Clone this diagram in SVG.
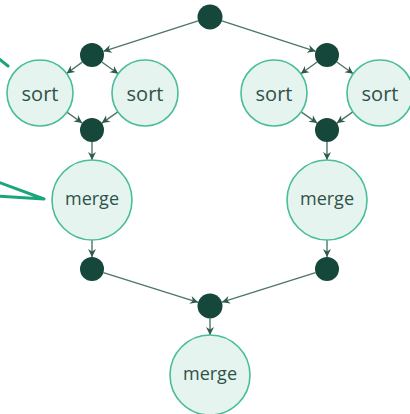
<svg xmlns="http://www.w3.org/2000/svg" width="410" height="414" viewBox="0 0 410 414">
<style>
.dot{fill:#15473a}
.op{fill:#e6f4f0;stroke:#48bd98;stroke-width:1.6}
.lbl{font-family:"Open Sans","Noto Sans",sans-serif;fill:#2e5247;text-anchor:middle;dominant-baseline:central}
.s{font-size:20px}
.m{font-size:18px}
.e{stroke:#4f7566;stroke-width:1.4;fill:none;marker-end:url(#arr)}
.call{stroke:#1aa57c;stroke-width:3;fill:none;stroke-linecap:round;stroke-linejoin:round}
</style>
<defs>
<marker id="arr" markerUnits="userSpaceOnUse" markerWidth="10" markerHeight="10" viewBox="0 0 10 10" refX="9" refY="5" orient="auto">
<path d="M1,1 L9,5 L1,9 L3.5,5 z" fill="#2f5a4b"/>
</marker>
</defs>
<g id="callouts">
<path class="call" d="M-2,58 L8,66"/>
<path class="call" d="M-2,182 L44,199 L-2,196"/>
</g>
<g id="connectors">
<path class="e" d="M198.1,20.8 L103.4,51.3"/>
<path class="e" d="M221.9,20.9 L315.6,51.3"/>
<path class="e" d="M82.3,62.1 L66.6,73.5"/>
<path class="e" d="M101.8,62.0 L118.2,73.8"/>
<path class="e" d="M66.9,112.1 L82.2,123.0"/>
<path class="e" d="M117.9,111.9 L101.8,123.1"/>
<path class="e" d="M317.2,62.0 L300.8,73.8"/>
<path class="e" d="M336.8,62.0 L353.2,73.8"/>
<path class="e" d="M301.1,111.9 L317.2,123.1"/>
<path class="e" d="M352.9,111.9 L336.8,123.1"/>
<path class="e" d="M92,142 L92,160"/>
<path class="e" d="M92,240 L92,257"/>
<path class="e" d="M327,142 L327,160"/>
<path class="e" d="M327,240 L327,257"/>
<path class="e" d="M103.4,272.6 L198.1,302.3"/>
<path class="e" d="M315.6,272.6 L221.9,302.2"/>
<path class="e" d="M210,318.5 L210,335"/>
</g>
<g id="top"><circle class="dot" cx="210" cy="17" r="12.5"/></g>
<g id="splitL"><circle class="dot" cx="92" cy="55" r="12"/></g>
<g id="splitR"><circle class="dot" cx="327" cy="55" r="12"/></g>
<g id="sortLL"><circle class="op" cx="40" cy="93" r="33"/><text class="lbl s" x="40" y="93">sort</text></g>
<g id="sortLR"><circle class="op" cx="145" cy="93" r="33"/><text class="lbl s" x="145" y="93">sort</text></g>
<g id="sortRL"><circle class="op" cx="274" cy="93" r="33"/><text class="lbl s" x="274" y="93">sort</text></g>
<g id="sortRR"><circle class="op" cx="380" cy="93" r="33"/><text class="lbl s" x="380" y="93">sort</text></g>
<g id="joinL"><circle class="dot" cx="92" cy="130" r="12"/></g>
<g id="joinR"><circle class="dot" cx="327" cy="130" r="12"/></g>
<g id="mergeL"><circle class="op" cx="92" cy="200" r="40"/><text class="lbl m" x="92" y="198">merge</text></g>
<g id="mergeR"><circle class="op" cx="327" cy="200" r="40"/><text class="lbl m" x="327" y="198">merge</text></g>
<g id="outL"><circle class="dot" cx="92" cy="269" r="12"/></g>
<g id="outR"><circle class="dot" cx="327" cy="269" r="12"/></g>
<g id="joinB"><circle class="dot" cx="210" cy="306" r="12.5"/></g>
<g id="mergeB"><circle class="op" cx="210" cy="375" r="40"/><text class="lbl m" x="210" y="373">merge</text></g>
</svg>
